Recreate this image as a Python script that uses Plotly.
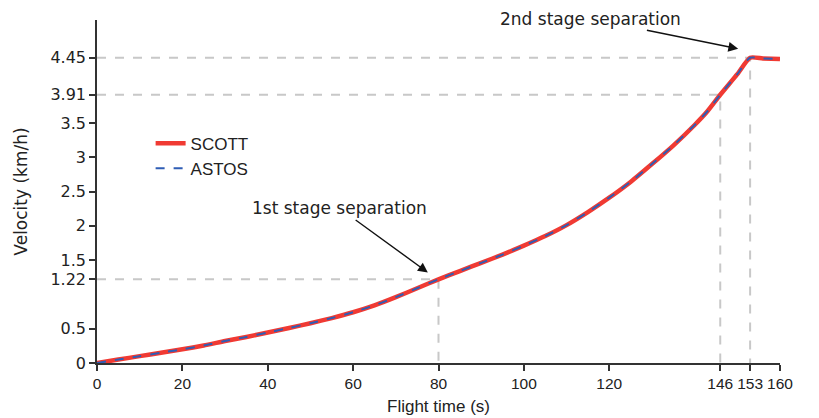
import plotly.graph_objects as go

# Data
time_s = [0, 5, 10, 15, 20, 25, 30, 35, 40, 45, 50, 55, 60, 65, 70, 75, 80,
          85, 90, 95, 100, 105, 110, 115, 120, 125, 130, 135, 140, 143, 146,
          150, 153, 156, 160]
scott_vel = [0, 0.05, 0.1, 0.15, 0.2, 0.255, 0.32, 0.38, 0.445, 0.51, 0.58,
             0.655, 0.74, 0.84, 0.96, 1.09, 1.22, 1.34, 1.46, 1.58, 1.71, 1.85,
             2.01, 2.2, 2.41, 2.64, 2.9, 3.17, 3.47, 3.67, 3.91, 4.21, 4.45,
             4.44, 4.43]
astos_vel = [0, 0.05, 0.1, 0.15, 0.2, 0.255, 0.32, 0.38, 0.445, 0.51, 0.58,
             0.655, 0.74, 0.84, 0.96, 1.09, 1.22, 1.34, 1.46, 1.58, 1.71, 1.85,
             2.01, 2.2, 2.41, 2.64, 2.9, 3.17, 3.47, 3.67, 3.91, 4.21, 4.45,
             4.44, 4.43]

sep_times = [80, 146, 153]
sep_vel = [1.22, 3.91, 4.45]

x_ticks = [0, 20, 40, 60, 80, 100, 120, 146, 153, 160]
y_ticks = [0, 0.5, 1.22, 1.5, 2, 2.5, 3, 3.5, 3.91, 4.45]
y_ticklabels = ["0", "0.5", "1.22", "1.5", "2", "2.5", "3", "3.5", "3.91", "4.45"]

fig = go.Figure()

# guide lines for the separation points
for t, v in zip(sep_times, sep_vel):
    fig.add_trace(go.Scatter(
        x=[0, t, t], y=[v, v, 0], mode="lines",
        line=dict(color="#c8c8c8", width=2, dash="dash"),
        showlegend=False, hoverinfo="skip"))

fig.add_trace(go.Scatter(x=time_s, y=scott_vel, mode="lines", name="SCOTT",
                         line=dict(color="#f03a33", width=4.5,
                                   shape="spline", smoothing=0.6)))
fig.add_trace(go.Scatter(x=time_s, y=astos_vel, mode="lines", name="ASTOS",
                         line=dict(color="#2f5db5", width=2, dash="dash",
                                   shape="spline", smoothing=0.6)))

fig.add_annotation(x=77.5, y=1.32, ax=-88, ay=-64, xref="x", yref="y",
                   text="1st stage separation", showarrow=True,
                   arrowhead=2, arrowsize=1.4, arrowwidth=1.4, arrowcolor="#111",
                   font=dict(family="DejaVu Sans", size=17, color="#222"))
fig.add_annotation(x=150.2, y=4.58, ax=-148, ay=-30, xref="x", yref="y",
                   text="2nd stage separation", showarrow=True,
                   arrowhead=2, arrowsize=1.4, arrowwidth=1.4, arrowcolor="#111",
                   font=dict(family="DejaVu Sans", size=17, color="#222"))

fig.update_layout(
    width=811, height=410,
    margin=dict(l=89, r=39, t=12, b=55),
    plot_bgcolor="white", paper_bgcolor="white",
    showlegend=True,
    legend=dict(x=0.0785, y=0.692, xanchor="left", yanchor="top",
                bgcolor="rgba(0,0,0,0)",
                font=dict(family="Liberation Sans", size=17, color="#222"),
                tracegroupgap=0),
    xaxis=dict(range=[0, 160], tickmode="array", tickvals=x_ticks,
               tickangle=0, automargin=False,
               showgrid=False, zeroline=False, showline=True,
               linecolor="#333", linewidth=1.5, ticks="outside",
               ticklen=6, tickwidth=1.5, tickcolor="#333",
               tickfont=dict(family="Liberation Sans", size=15.5, color="#222"),
               title=dict(text="Flight time (s)", standoff=9,
                          font=dict(family="Liberation Sans", size=17,
                                    color="#222"))),
    yaxis=dict(range=[0, 5], tickmode="array", tickvals=y_ticks,
               ticktext=y_ticklabels, automargin=False,
               showgrid=False, zeroline=False, showline=True,
               linecolor="#333", linewidth=1.5, ticks="outside",
               ticklen=6, tickwidth=1.5, tickcolor="#333",
               tickfont=dict(family="DejaVu Sans", size=16, color="#222"),
               title=dict(text="Velocity (km/h)", standoff=18,
                          font=dict(family="DejaVu Sans", size=17, color="#222"))),
)

fig.write_html("out.html")
